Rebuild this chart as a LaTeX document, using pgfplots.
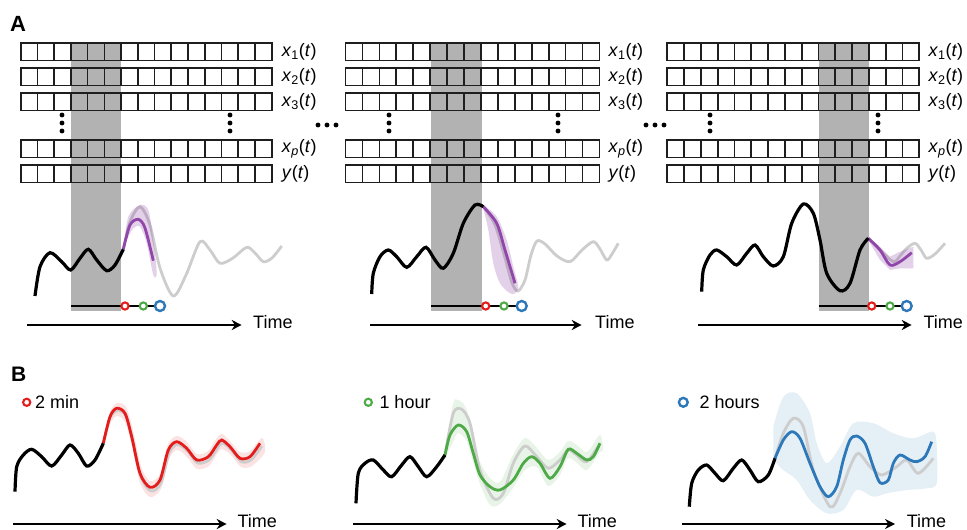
\documentclass[border=0pt]{standalone}
\usepackage{pgfplots}
\pgfplotsset{compat=1.18}
\usepackage{fontspec}
\setmainfont{Liberation Sans}
\usetikzlibrary{arrows.meta}
\definecolor{mypurple}{RGB}{145,70,170}
\definecolor{myred}{RGB}{228,28,28}
\definecolor{mygreen}{RGB}{77,170,70}
\definecolor{myblue}{RGB}{44,120,185}
\definecolor{lgray}{RGB}{205,205,205}
\definecolor{wgray}{RGB}{178,178,178}
\definecolor{boxc}{RGB}{30,30,30}
\newcommand\fs{\fontsize{18bp}{20bp}\selectfont}
\newcommand\xl[1]{\textit{x}\textsubscript{#1}(\textit{t})}
\newcommand\xp{\textit{x}\textsubscript{\textit{p}}(\textit{t})}
\newcommand\yl{\textit{y}(\textit{t})}
\begin{document}
\begin{tikzpicture}
\begin{axis}[x=1bp,y=1bp,y dir=reverse,xmin=0,xmax=967,ymin=0,ymax=530,
  hide axis,clip=false]
\path (axis cs:0,0) rectangle (axis cs:967,530);
% gray windows
\addplot[fill=wgray,draw=none] coordinates {(70.9,43)(121.1,43)(121.1,311)(70.9,311)};
\addplot[fill=wgray,draw=none] coordinates {(430.5,43)(481.7,43)(481.7,311)(430.5,311)};
\addplot[fill=wgray,draw=none] coordinates {(818.5,43)(868.9,43)(868.9,311)(818.5,311)};
% boxes
\pgfplotsextra{
 \foreach \L/\R in {20.7/271.7, 345.5/599.5, 667.3/919.3}{
  \foreach \T in {43,68,93,140,165}{
   \pgfmathsetmacro\B{\T+17.5}
   \draw[boxc,line width=1.7bp] (axis cs:\L,\T) rectangle (axis cs:\R,\B);
   \foreach \k in {1,...,14}{
     \pgfmathsetmacro\xx{\L+\k*(\R-\L)/15}
     \draw[boxc,line width=1.7bp] (axis cs:\xx,\T) -- (axis cs:\xx,\B);
   }
  }
 }
}
% vertical dots and ellipses
\addplot[only marks,mark=*,mark size=2.2bp,black] coordinates {
(62,115)(62,123)(62,131)(230,115)(230,123)(230,131)
(389,115)(389,123)(389,131)(558,115)(558,123)(558,131)
(710,115)(710,123)(710,131)(878,115)(878,123)(878,131)
(318,125)(327,125)(336,125)(646,125)(655,125)(664,125)};
% labels
\pgfplotsinvokeforeach{281.7,608.3,928.3}{
 \node[anchor=west,inner sep=0,font=\fs] at (axis cs:#1,52) {\xl{1}};
 \node[anchor=west,inner sep=0,font=\fs] at (axis cs:#1,77) {\xl{2}};
 \node[anchor=west,inner sep=0,font=\fs] at (axis cs:#1,101.5) {\xl{3}};
 \node[anchor=west,inner sep=0,font=\fs] at (axis cs:#1,149) {\xp};
 \node[anchor=west,inner sep=0,font=\fs] at (axis cs:#1,174) {\yl};
}
\node[anchor=base west,inner sep=0,font=\fontsize{22bp}{24bp}\selectfont\bfseries] at (axis cs:10,31.7) {A};
\node[anchor=base west,inner sep=0,font=\fontsize{21bp}{24bp}\selectfont\bfseries] at (axis cs:11,382) {B};

% ===== Panel A1 =====
\addplot[lgray,line width=2.8bp,smooth] coordinates {(123.3,249.3)(130,222)(140,206.7)(150,225)(160,268)(173.3,296)(186,275)(200,241.7)(210,250)(220,263.3)(233,258)(246.7,247.3)(255,253)(263.3,261.7)(272,258)(281.7,246)};
\addplot[fill=mypurple,fill opacity=0.25,draw=none,smooth] coordinates {(123.3,250)(128.3,216.7)(140,205)(148.3,210)(153.3,240)(156.7,273.3)(153.3,275)(146.7,243.3)(140,226.7)(133.3,228.3)(126.7,240)(123.3,250)};
\addplot[mypurple,line width=2.8bp,smooth] coordinates {(123.3,249.3)(130,225)(138.3,219.3)(145,228)(153.3,260.7)};
\addplot[black,line width=3.2bp,smooth] coordinates {(35,296)(40,266.7)(50,252.7)(61.7,261.7)(70.7,270)(80,258.3)(88.3,249.3)(96.7,260)(106.7,270.7)(115,265)(123.3,249.3)};
% ===== Panel A2 =====
\addplot[lgray,line width=2.8bp,smooth] coordinates {(483.3,206.7)(495,225)(505,258)(512,283)(518,291)(525,280)(531,255)(537,241)(545,244)(557,256)(570,261.7)(582,250)(593.3,241.7)(600,249)(606.7,260)(612,254)(618.3,243.3)};
\addplot[fill=mypurple,fill opacity=0.25,draw=none,smooth] coordinates {(483.3,205)(496.7,216.7)(506.7,240)(513.3,266.7)(518.3,286.7)(515,293.3)(510,293.3)(500,283.3)(493.3,263.3)(488.3,230)(483.3,208.3)};
\addplot[mypurple,line width=2.8bp,smooth] coordinates {(483.3,206.7)(496.7,223.3)(505,250)(515,283.3)};
\addplot[black,line width=3.2bp,smooth] coordinates {(371.7,294)(373.3,273.3)(380,256.7)(388.3,250)(396.7,256.7)(406.7,267.3)(416.7,256.7)(426,247.3)(435,260)(443.3,268.3)(453.3,253.3)(463.3,223.3)(475,205)(483.3,206.7)};
% ===== Panel A3 =====
\addplot[lgray,line width=2.8bp,smooth] coordinates {(868.3,238.3)(880,250)(893.3,261.7)(900,256)(906.7,248.3)(915,243.3)(921,250)(926.7,258.3)(935,254)(945,243.3)};
\addplot[fill=mypurple,fill opacity=0.25,draw=none] coordinates {(868.3,236.7)(880,246.7)(890,256.7)(900,251.7)(913.3,246.7)(913.3,268.3)(900,268.3)(890,270)(880,260)(868.3,240)};
\addplot[mypurple,line width=2.8bp,smooth] coordinates {(868.3,238.3)(880,250)(890,265)(900,261.7)(911.7,252.7)};
\addplot[black,line width=3.2bp,smooth] coordinates {(701.7,291.7)(703.3,270)(710,255)(716.7,250)(726.7,256.7)(736.7,265)(746.7,253.3)(755,245)(763.3,256.7)(773.3,266)(783.3,256.7)(791.7,223.3)(803.3,204)(813.3,213.3)(820,240)(826.7,273.3)(840,290.7)(850,283.3)(860,250)(868.3,238.3)};
% baselines
\addplot[black,line width=2.8bp] coordinates {(70.9,306)(121.1,306)};
\addplot[black,line width=2.8bp] coordinates {(430.5,306)(481.7,306)};
\addplot[black,line width=2.8bp] coordinates {(818.5,306)(868.9,306)};
\addplot[black,line width=1.7bp] coordinates {(125,306)(160,306)};
\addplot[black,line width=1.7bp] coordinates {(485.7,306)(521.7,306)};
\addplot[black,line width=1.7bp] coordinates {(871.7,306)(906.7,306)};
\addplot[only marks,mark=*,mark size=3.6bp,line width=2.1bp,mark options={draw=myred,fill=white}] coordinates {(125,306)(485.7,306)(871.7,306)(26.7,402.3)};
\addplot[only marks,mark=*,mark size=3.6bp,line width=2.1bp,mark options={draw=mygreen,fill=white}] coordinates {(143.3,306)(504,306)(890,306)(368.3,402.3)};
\addplot[only marks,mark=*,mark size=5bp,line width=2.4bp,mark options={draw=myblue,fill=white}] coordinates {(160,306)(521.7,306)(906.7,306)};
\addplot[only marks,mark=*,mark size=4.4bp,line width=2.4bp,mark options={draw=myblue,fill=white}] coordinates {(683.3,402.3)};

% time arrows
\draw[line width=2.6bp,-{Stealth[length=10bp,width=10bp]}] (axis cs:27,325) -- (axis cs:241.7,325);
\draw[line width=2.6bp,-{Stealth[length=10bp,width=10bp]}] (axis cs:370,325) -- (axis cs:581.7,325);
\draw[line width=2.6bp,-{Stealth[length=10bp,width=10bp]}] (axis cs:698.3,325) -- (axis cs:911.7,325);
\draw[line width=2.6bp,-{Stealth[length=10bp,width=10bp]}] (axis cs:13.3,524) -- (axis cs:226.7,524);
\draw[line width=2.6bp,-{Stealth[length=10bp,width=10bp]}] (axis cs:353.3,524) -- (axis cs:566.7,524);
\draw[line width=2.6bp,-{Stealth[length=10bp,width=10bp]}] (axis cs:681.7,524) -- (axis cs:895,524);
\node[anchor=base west,inner sep=0,font=\fs] at (axis cs:253,328.5) {Time};
\node[anchor=base west,inner sep=0,font=\fs] at (axis cs:595,328.5) {Time};
\node[anchor=base west,inner sep=0,font=\fs] at (axis cs:923.3,328.5) {Time};
\node[anchor=base west,inner sep=0,font=\fs] at (axis cs:237.3,527.5) {Time};
\node[anchor=base west,inner sep=0,font=\fs] at (axis cs:577.3,527.5) {Time};
\node[anchor=base west,inner sep=0,font=\fs] at (axis cs:906.7,527.5) {Time};
\node[anchor=base west,inner sep=0,font=\fs] at (axis cs:35,408.3) {2 min};
\node[anchor=base west,inner sep=0,font=\fs] at (axis cs:379.3,408.3) {1 hour};
\node[anchor=base west,inner sep=0,font=\fs] at (axis cs:699.3,408.3) {2 hours};

% ===== Panel B1 (2 min) =====
\addplot[fill=myred,fill opacity=0.12,draw=none,smooth] coordinates {(103,440)(110,412)(117,403)(126,407)(133,430)(141,466)(150,481)(160,474)(168,444)(177,436)(187,442)(197,454)(208,451)(216,439)(222,434)(230,441)(240,452)(250,451)(262,438)(265,452)(252,466)(241,467)(231,455)(222,449)(217,454)(209,466)(197,469)(187,457)(177,450)(169,459)(161,489)(150,497)(140,483)(132,446)(125,422)(117,416)(110,424)(103,446)};
\addplot[lgray,line width=2.8bp,smooth] coordinates {(103.3,443.3)(110,418)(117.5,410.5)(126,416)(132.5,440)(141,477)(151,491)(161,483)(169,453)(177.5,444.5)(187.5,451)(197.5,463)(209,460)(217.5,448)(222.5,443)(231,449.5)(241,461.5)(251,460)(262,446)};
\addplot[myred,line width=2.8bp,smooth] coordinates {(103.3,443.3)(110,416.7)(116.7,408.3)(125,413.3)(131.7,436.7)(140,473.3)(150,487.3)(160,480)(168.3,450)(176.7,441.7)(186.7,448.3)(196.7,460)(208.3,456.7)(216.7,445)(221.7,440)(230,446.7)(240,458.3)(250,456.7)(260,443.3)};
\addplot[black,line width=3.2bp,smooth] coordinates {(15,491.7)(16.7,466.7)(23.3,455)(31.7,449.3)(41.7,456.7)(51.7,466)(61.7,455)(70,445)(78.3,453.3)(86.7,466)(95,460)(103.3,443.3)};

% ===== Panel B2 (1 hour) =====
\addplot[fill=mygreen,fill opacity=0.13,draw=none,smooth] coordinates {(445,450)(453,404)(458,400)(466,408)(473,437)(480,462)(490,478)(500,482)(513,455)(525,438)(537,448)(548,460)(560,452)(568,441)(577,445)(587,452)(600,435)(603,450)(600,452)(587,470)(577,463)(568,458)(560,475)(548,486)(537,467)(525,470)(513,488)(500,504)(490,505)(480,484)(473,462)(466,440)(458,433)(453,442)(445,458)};
\addplot[lgray,line width=2.8bp,smooth] coordinates {(445,455)(453.3,413.3)(461.7,409.3)(470,423.3)(480,470)(493.3,498.3)(503.3,493.3)(513.3,463.3)(525,446)(536.7,456.7)(548.3,468.3)(560,460)(568.3,450)(576.7,455)(586.7,461.7)(600,443.3)};
\addplot[mygreen,line width=2.8bp,smooth] coordinates {(445,455)(450,435)(458.3,425)(466.7,431.7)(473.3,453.3)(480,475)(490,486.7)(500,490)(513.3,480)(523.3,463.3)(531.7,456.7)(540,463.3)(550,478.3)(560,466.7)(568.3,449.3)(576.7,453.3)(586.7,460)(593.3,456.7)(600,443.3)};
\addplot[black,line width=3.2bp,smooth] coordinates {(356,503.3)(358.3,473.3)(365,463.3)(373.3,460)(383.3,470)(391.7,476.7)(401.7,465)(410,456.7)(418.3,466.7)(426.7,476.7)(436.7,466.7)(445,455)};

% ===== Panel B3 (2 hours) =====
\addplot[fill=myblue,fill opacity=0.12,draw=none,smooth] coordinates {(773.3,426.7)(783.3,396.7)(796.7,393.3)(810,413.3)(816.7,443.3)(826.7,463.3)(840,446.7)(853.3,423.3)(873.3,423.3)(893.3,433.3)(913.3,438.3)(933.3,431.7)(936.7,446.7)(936.7,483.3)(926.7,488.3)(906.7,490)(886.7,493.3)(873.3,496.7)(856.7,490)(843.3,510)(826.7,513.3)(810,500)(796.7,480)(783.3,470)(773.3,460)};
\addplot[lgray,line width=2.8bp,smooth] coordinates {(775,458.3)(783.3,433.3)(793.3,418.3)(803.3,426.7)(813.3,470)(830,506.7)(840,493.3)(850,466.7)(858.3,453.3)(870,466.7)(881.7,475)(896.7,466.7)(906.7,460)(918.3,473.3)(933.3,458.3)};
\addplot[myblue,line width=2.8bp,smooth] coordinates {(775,458.3)(783.3,440)(791.7,431.7)(800,438.3)(810,463.3)(820,486.7)(828.3,496.7)(836.7,486.7)(843.3,460)(850,440)(856.7,436)(865,443.3)(873.3,466.7)(880,482.7)(888.3,480)(893.3,463.3)(900,455)(910,460)(916.7,461.7)(925,456.7)(931.7,441.7)};
\addplot[black,line width=3.2bp,smooth] coordinates {(689.3,506.7)(691.7,483.3)(698.3,470)(706.7,465)(715,473.3)(723.3,480.7)(733.3,468.3)(741.7,460)(750,470)(758.3,481.7)(768.3,475)(775,458.3)};
\end{axis}
\end{tikzpicture}
\end{document}
